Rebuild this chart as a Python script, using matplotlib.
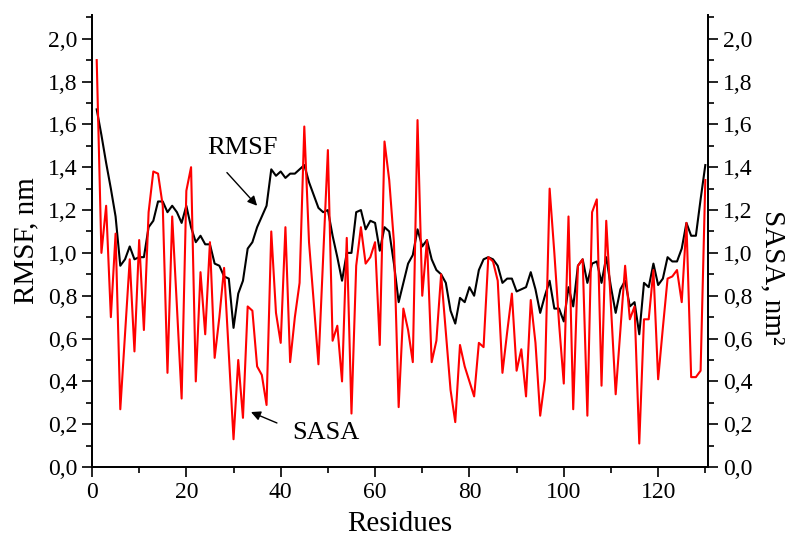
import matplotlib
matplotlib.use("Agg")
import matplotlib.pyplot as plt
from matplotlib.ticker import MultipleLocator, FuncFormatter

# residue-wise values (residues 1..130)
rmsf = [1.67, 1.55, 1.42, 1.30, 1.17, 0.94, 0.97, 1.03, 0.97, 0.98,
        0.98, 1.12, 1.15, 1.24, 1.24, 1.19, 1.22, 1.19, 1.14, 1.22,
        1.12, 1.05, 1.08, 1.04, 1.04, 0.95, 0.94, 0.89, 0.88, 0.65,
        0.81, 0.87, 1.02, 1.05, 1.12, 1.17, 1.22, 1.39, 1.36, 1.38,
        1.35, 1.37, 1.37, 1.39, 1.41, 1.33, 1.27, 1.21, 1.19, 1.20,
        1.08, 0.98, 0.87, 1.00, 1.00, 1.19, 1.20, 1.11, 1.15, 1.14,
        1.01, 1.12, 1.10, 0.95, 0.77, 0.86, 0.95, 0.99, 1.11, 1.03,
        1.06, 0.97, 0.92, 0.90, 0.86, 0.73, 0.67, 0.79, 0.77, 0.84,
        0.80, 0.92, 0.97, 0.98, 0.97, 0.94, 0.86, 0.88, 0.88, 0.82,
        0.83, 0.84, 0.91, 0.83, 0.72, 0.80, 0.87, 0.74, 0.74, 0.68,
        0.84, 0.75, 0.94, 0.97, 0.86, 0.95, 0.96, 0.86, 0.98, 0.84,
        0.72, 0.83, 0.87, 0.75, 0.77, 0.62, 0.86, 0.84, 0.95, 0.85,
        0.88, 0.98, 0.96, 0.96, 1.02, 1.14, 1.08, 1.08, 1.25, 1.41]

sasa = [1.90, 1.00, 1.22, 0.70, 1.09, 0.27, 0.62, 0.97, 0.54, 1.06,
        0.64, 1.19, 1.38, 1.37, 1.22, 0.44, 1.17, 0.75, 0.32, 1.29,
        1.40, 0.40, 0.91, 0.62, 1.05, 0.51, 0.70, 0.93, 0.53, 0.13,
        0.50, 0.23, 0.75, 0.73, 0.47, 0.43, 0.29, 1.10, 0.72, 0.58,
        1.12, 0.49, 0.70, 0.86, 1.59, 1.05, 0.77, 0.48, 0.98, 1.48,
        0.59, 0.66, 0.40, 1.07, 0.25, 0.94, 1.12, 0.95, 0.98, 1.05,
        0.57, 1.52, 1.34, 1.05, 0.28, 0.74, 0.64, 0.49, 1.62, 0.80,
        1.06, 0.49, 0.59, 0.90, 0.63, 0.36, 0.21, 0.57, 0.47, 0.40,
        0.33, 0.58, 0.56, 0.98, 0.96, 0.87, 0.44, 0.63, 0.81, 0.45,
        0.55, 0.33, 0.78, 0.58, 0.24, 0.41, 1.30, 1.00, 0.67, 0.39,
        1.17, 0.27, 0.94, 0.97, 0.24, 1.19, 1.25, 0.38, 1.15, 0.75,
        0.34, 0.64, 0.94, 0.69, 0.75, 0.11, 0.69, 0.69, 0.92, 0.41,
        0.65, 0.88, 0.89, 0.92, 0.77, 1.14, 0.42, 0.42, 0.45, 1.34]

residues = list(range(1, len(rmsf) + 1))

plt.rcParams["font.family"] = ["Liberation Serif", "DejaVu Serif"]

comma = FuncFormatter(lambda v, pos: f"{v:.1f}".replace(".", ","))

fig = plt.figure(figsize=(7.93, 5.40), dpi=100)
ax = fig.add_axes([0.116, 0.135, 0.777, 0.837])
ax2 = ax.twinx()

ax.plot(residues, rmsf, color="black", lw=1.5)
ax2.plot(residues, sasa, color="#ff0000", lw=1.5)

for a in (ax, ax2):
    a.set_xlim(0, 130.6)
    a.set_ylim(0, 2.11)
    a.yaxis.set_major_locator(MultipleLocator(0.2))
    a.yaxis.set_minor_locator(MultipleLocator(0.1))
    a.yaxis.set_major_formatter(comma)
    a.spines["top"].set_visible(False)
    a.tick_params(which="major", direction="out", length=7, width=1.2, labelsize=17)
    a.tick_params(which="minor", direction="out", length=4, width=1.2)
    for sp in a.spines.values():
        sp.set_linewidth(1.3)

ax.xaxis.set_major_locator(MultipleLocator(20))
ax.xaxis.set_minor_locator(MultipleLocator(10))

ax.set_xlabel("Residues", fontsize=21, labelpad=6)
ax.set_ylabel("RMSF, nm", fontsize=21, labelpad=6)
ax2.set_ylabel("SASA, nm²", fontsize=21, rotation=270, labelpad=26)
ax2.yaxis.set_label_coords(1.125, 0.42)

# curve labels with pointer arrows
ax.text(32, 1.49, "RMSF", fontsize=19, ha="center", va="center")
ax.annotate("", xy=(35.0, 1.22), xytext=(28.6, 1.375),
            arrowprops=dict(arrowstyle="-|>", color="black", lw=1,
                            mutation_scale=14, shrinkA=0, shrinkB=0))
ax.text(49.5, 0.16, "SASA", fontsize=19, ha="center", va="center")
ax.annotate("", xy=(33.7, 0.257), xytext=(39.2, 0.206),
            arrowprops=dict(arrowstyle="-|>", color="black", lw=1,
                            mutation_scale=14, shrinkA=0, shrinkB=0))

fig.savefig("out.png", dpi=100)
